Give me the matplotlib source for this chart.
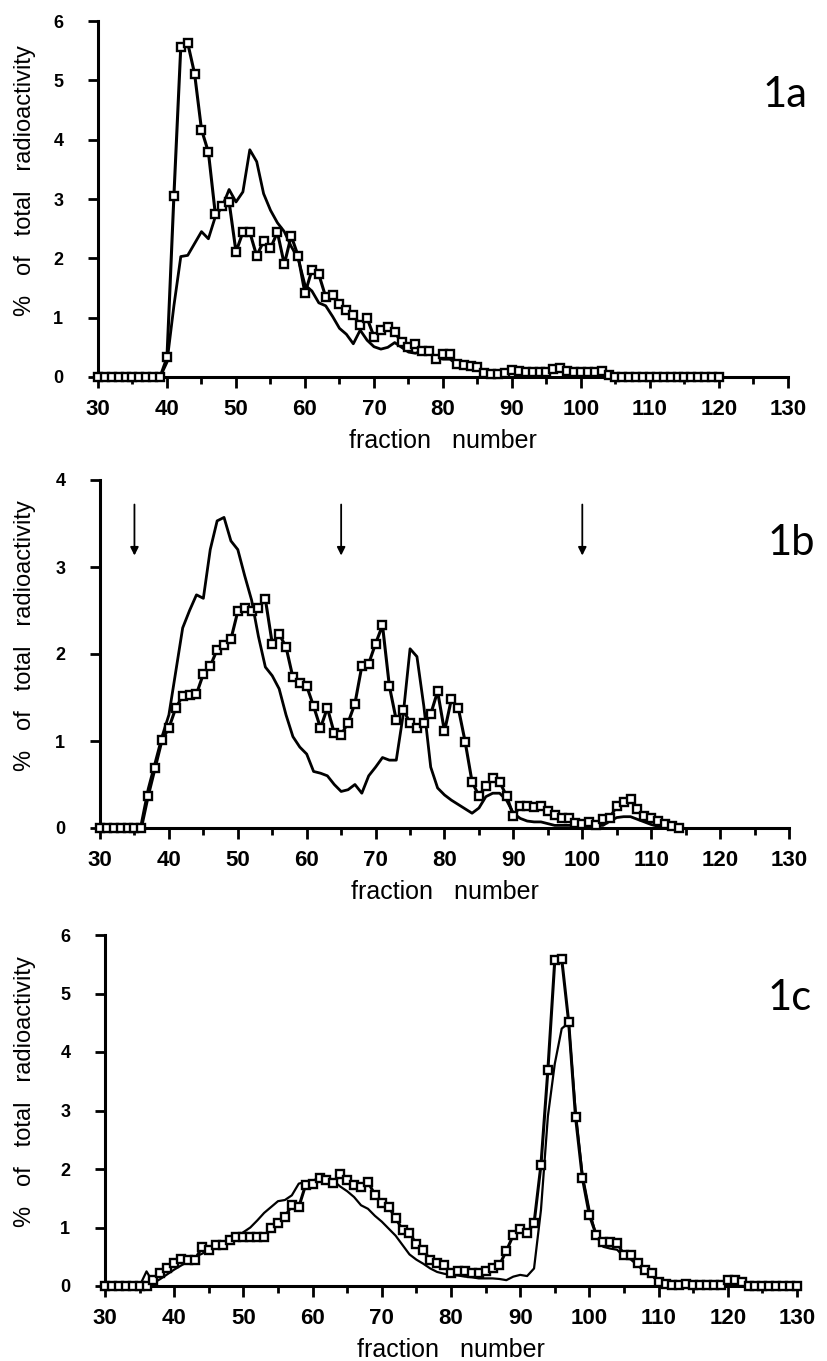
import matplotlib
matplotlib.use('Agg')
import matplotlib.pyplot as plt
import numpy as np

plt.rcParams['font.family'] = ['Liberation Sans', 'DejaVu Sans']

# ---- panel 1a : fractions 30-120 ----
frac_a = np.arange(30, 121)
squares_a = [0, 0, 0, 0, 0, 0, 0, 0, 0, 0,
             0.33, 3.05, 5.57, 5.63, 5.11, 4.17, 3.79, 2.75, 2.88, 2.95,
             2.11, 2.44, 2.44, 2.04, 2.29, 2.17, 2.44, 1.90, 2.38, 2.04,
             1.41, 1.80, 1.73, 1.35, 1.38, 1.23, 1.13, 1.04, 0.88, 0.99,
             0.68, 0.79, 0.85, 0.75, 0.59, 0.51, 0.56, 0.44, 0.44, 0.31,
             0.39, 0.39, 0.22, 0.21, 0.19, 0.17, 0.06, 0.05, 0.05, 0.06,
             0.12, 0.10, 0.09, 0.09, 0.08, 0.09, 0.14, 0.15, 0.10, 0.09,
             0.09, 0.09, 0.09, 0.10, 0.03, 0, 0, 0, 0, 0,
             0, 0, 0, 0, 0, 0, 0, 0, 0, 0, 0]
line_a = [0, 0, 0, 0, 0, 0, 0, 0, 0, 0,
          0.25, 1.2, 2.03, 2.05, 2.25, 2.45, 2.33, 2.7, 2.87, 3.16,
          2.95, 3.12, 3.83, 3.63, 3.09, 2.81, 2.6, 2.45, 2.2, 2.0,
          1.55, 1.45, 1.25, 1.2, 1.02, 0.82, 0.72, 0.56, 0.79, 0.62,
          0.51, 0.47, 0.5, 0.58, 0.5, 0.42, 0.40, 0.44, 0.40, 0.33,
          0.3, 0.3, 0.22, 0.2, 0.17, 0.15, 0.07, 0.06, 0.06, 0.06,
          0.08, 0.08, 0.07, 0.07, 0.07, 0.08, 0.12, 0.12, 0.08, 0.08,
          0.08, 0.08, 0.08, 0.06, 0.02, 0, 0, 0, 0, 0,
          0, 0, 0, 0, 0, 0, 0, 0, 0, 0, 0]

# ---- panel 1b : fractions 30-114 ----
frac_b = np.arange(30, 115)
squares_b = [0, 0, 0, 0, 0, 0, 0,
             0.37, 0.69, 1.01, 1.15, 1.38, 1.52, 1.53, 1.54, 1.77, 1.86, 2.05,
             2.10, 2.17, 2.49, 2.53, 2.49, 2.53, 2.63, 2.12, 2.23, 2.08,
             1.73, 1.67, 1.63, 1.40, 1.15, 1.38, 1.09, 1.07, 1.21, 1.43,
             1.86, 1.89, 2.12, 2.33, 1.63, 1.24, 1.36, 1.21, 1.15, 1.21,
             1.31, 1.57, 1.11, 1.48, 1.38, 0.99, 0.53, 0.37, 0.48, 0.58,
             0.53, 0.37, 0.14, 0.25, 0.25, 0.24, 0.25, 0.19, 0.15, 0.11,
             0.11, 0.06, 0.05, 0.07, 0.04, 0.10, 0.12, 0.25, 0.30, 0.33,
             0.22, 0.14, 0.11, 0.08, 0.05, 0.02, 0.0]
line_b = [0, 0, 0, 0, 0, 0, 0.05,
          0.45, 0.75, 1.05, 1.3, 1.8, 2.3, 2.5, 2.68, 2.64, 3.2, 3.53,
          3.57, 3.3, 3.2, 2.9, 2.62, 2.2, 1.85, 1.75, 1.6, 1.3,
          1.05, 0.93, 0.85, 0.65, 0.63, 0.6, 0.5, 0.42, 0.44, 0.5,
          0.4, 0.6, 0.7, 0.81, 0.78, 0.78, 1.3, 2.06, 1.97, 1.4,
          0.7, 0.46, 0.38, 0.32, 0.27, 0.22, 0.17, 0.23, 0.36, 0.40,
          0.40, 0.32, 0.17, 0.11, 0.08, 0.07, 0.07, 0.05, 0.03, 0.03,
          0.03, 0.03, 0.03, 0.03, 0.03, 0.03, 0.08, 0.12, 0.13, 0.13,
          0.1, 0.07, 0.04, 0.02, 0.0, 0.0, 0.0]
arrow_fracs_b = [35, 65, 100]

# ---- panel 1c : fractions 30-130 ----
frac_c = np.arange(30, 131)
squares_c = [0, 0, 0, 0, 0, 0, 0,
             0.10, 0.22, 0.30, 0.39, 0.47, 0.44, 0.45,
             0.66, 0.61, 0.70, 0.70, 0.78, 0.83, 0.83,
             0.83, 0.83, 0.83, 1.00, 1.08, 1.18, 1.38,
             1.35, 1.73, 1.74, 1.84, 1.82, 1.76, 1.91,
             1.81, 1.73, 1.70, 1.78, 1.56, 1.42, 1.35,
             1.16, 0.96, 0.90, 0.72, 0.62, 0.44, 0.40,
             0.36, 0.22, 0.25, 0.25, 0.22, 0.22, 0.25,
             0.30, 0.36, 0.60, 0.87, 0.97, 0.91, 1.07,
             2.07, 3.69, 5.57, 5.59, 4.52, 2.89, 1.84,
             1.21, 0.87, 0.76, 0.76, 0.74, 0.53, 0.53,
             0.39, 0.27, 0.22, 0.07, 0.03, 0.02, 0.02,
             0.04, 0.02, 0.02, 0.02, 0.02, 0.02, 0.10,
             0.10, 0.07, 0, 0, 0, 0, 0,
             0, 0, 0]
line_c = [0, 0, 0, 0, 0, 0, 0.25,
          0.05, 0.12, 0.2, 0.28, 0.35, 0.42, 0.5,
          0.55, 0.62, 0.68, 0.72, 0.78, 0.85, 0.92,
          1.0, 1.12, 1.25, 1.35, 1.45, 1.47, 1.55,
          1.75, 1.78, 1.8, 1.85, 1.88, 1.8, 1.7,
          1.62, 1.52, 1.38, 1.32, 1.2, 1.1, 0.98,
          0.86, 0.7, 0.54, 0.45, 0.38, 0.3, 0.24,
          0.21, 0.19, 0.18, 0.16, 0.15, 0.13, 0.13,
          0.13, 0.12, 0.1, 0.16, 0.19, 0.17, 0.3,
          1.3, 2.9, 3.8, 4.4, 4.5, 3.0, 1.9,
          1.3, 0.85, 0.67, 0.64, 0.62, 0.5, 0.45,
          0.35, 0.24, 0.18, 0.06, 0.02, 0.02, 0.02,
          0.02, 0.02, 0.02, 0.02, 0.02, 0.02, 0.05,
          0.05, 0.04, 0, 0, 0, 0, 0,
          0, 0, 0]

W, H = 828, 1361
fig = plt.figure(figsize=(W / 100, H / 100), dpi=100)

# axes boxes in pixels: left, right, top, bottom
boxes = [(98, 788, 21, 377), (100, 789, 480, 828), (105, 797, 935, 1286)]
ymaxes = [6, 4, 6]
names = ['1a', '1b', '1c']
name_pos = [(763, 95), (768, 543), (768, 998)]
ylabel_y = [181, 636, 1092]
data = [(frac_a, squares_a, line_a), (frac_b, squares_b, line_b), (frac_c, squares_c, line_c)]

for i in range(3):
    l, r, t, b = boxes[i]
    ax = fig.add_axes([l / W, 1 - b / H, (r - l) / W, (b - t) / H])
    fr, sq, ln = data[i]

    ax.plot(fr, ln, color='black', lw=2.0 if i < 2 else 1.6, clip_on=False, zorder=2)
    ax.plot(fr, sq, color='black', lw=2.2, marker='s', ms=6.3, mfc='white',
            mec='black', mew=1.7, clip_on=False, zorder=3)

    ax.set_xlim(30, 130)
    ax.set_ylim(0, ymaxes[i])
    for s in ['top', 'right']:
        ax.spines[s].set_visible(False)
    for s in ['left', 'bottom']:
        ax.spines[s].set_linewidth(2.2)

    ax.set_xticks(range(30, 131, 10))
    ax.set_xticks(range(35, 130, 10), minor=True)
    ax.set_yticks(range(0, ymaxes[i] + 1))
    ax.tick_params(axis='x', which='major', direction='out', length=8, width=2, pad=8)
    ax.tick_params(axis='x', which='minor', direction='out', length=5, width=2)
    ax.tick_params(axis='y', direction='out', length=7, width=2, pad=18)
    for lab in ax.get_xticklabels():
        lab.set_fontsize(16)
        lab.set_fontweight('bold')
    for lab in ax.get_yticklabels():
        lab.set_fontsize(13)
        lab.set_fontweight('bold')

    ax.set_xlabel('fraction   number', fontsize=18, labelpad=6)
    fig.text(25 / W, 1 - ylabel_y[i] / H, '%   of   total   radioactivity',
             rotation=90, ha='center', va='center', fontsize=17)
    fig.text(name_pos[i][0] / W, 1 - name_pos[i][1] / H, names[i],
             ha='left', va='center', fontsize=30, family='Lato')

    if i == 1:
        for f in arrow_fracs_b:
            ax.annotate('', xy=(f, 3.1), xytext=(f, 3.75),
                        arrowprops=dict(arrowstyle='-|>', color='black', lw=1.3,
                                        mutation_scale=12))

fig.savefig('out.png', dpi=100)
